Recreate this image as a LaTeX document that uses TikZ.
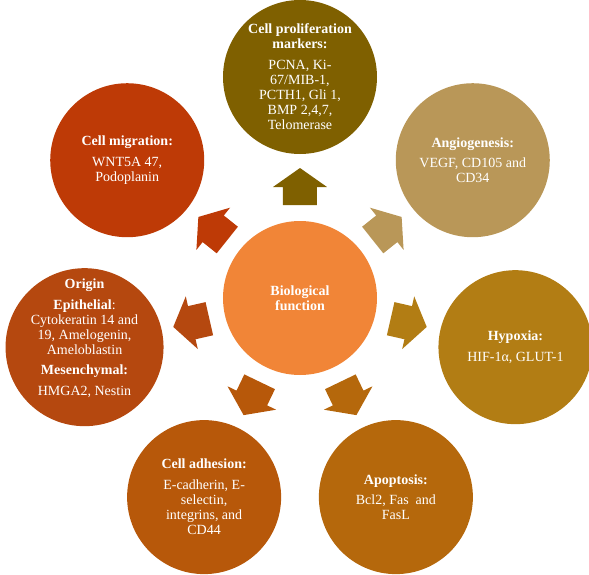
\documentclass[tikz,border=0pt]{standalone}
\usepackage{fontspec}
\setmainfont{Liberation Serif}
\definecolor{cCenter}{RGB}{241,133,55}
\definecolor{cTop}{RGB}{127,96,0}
\definecolor{cAngio}{RGB}{185,151,88}
\definecolor{cHypo}{RGB}{178,125,20}
\definecolor{cApop}{RGB}{181,104,12}
\definecolor{cAdh}{RGB}{183,88,10}
\definecolor{cOrig}{RGB}{181,72,15}
\definecolor{cMig}{RGB}{190,58,6}
\tikzset{
  bubble/.style={circle, fill=#1, minimum size=154pt, inner sep=0pt, text=white,
    align=center, font=\fontsize{14}{15.2}\selectfont},
  bubtext/.style={text=white, align=center, inner sep=0pt, font=\fontsize{14}{15.2}\selectfont},
  blockarrow/.style={fill=#1}
}
\begin{document}
\begin{tikzpicture}[x=1pt,y=1pt]
\useasboundingbox (-300,-276) rectangle (289,298);
% arrows
\foreach \ang/\col in {90/cTop, 38.571/cAngio, -12.857/cHypo, -64.286/cApop, -115.714/cAdh, -167.143/cOrig, 141.429/cMig}{
  \fill[blockarrow=\col, rotate=\ang] (93,-17) -- (111,-17) -- (111,-27) -- (130,0) -- (111,27) -- (111,17) -- (93,17) -- cycle;
}
\node[bubble=cCenter] (center) at (0,0) {\textbf{Biological}\\\textbf{function}};
\node[bubble=cTop] (prolif) at (90:221) {\textbf{Cell proliferation}\\\textbf{markers:}\\[5pt]PCNA, Ki-\\67/MIB-1,\\PCTH1, Gli 1,\\BMP 2,4,7,\\Telomerase};
\node[bubble=cAngio] (angio) at (38.571:221) {\textbf{Angiogenesis:}\\[5pt]VEGF, CD105 and\\CD34};
\node[bubble=cHypo] (hypo) at (-12.857:221) {\textbf{Hypoxia:}\\[5pt]HIF-1α, GLUT-1};
\node[bubble=cApop] (apop) at (-64.286:221) {\textbf{Apoptosis:}\\[5pt]Bcl2, Fas\ \ and\\FasL};
\node[bubble=cAdh] (adh) at (-115.714:221) {\textbf{Cell adhesion:}\\[5pt]E-cadherin, E-\\selectin,\\integrins, and\\CD44};
\node[bubble=cOrig, minimum size=158pt] (orig) at (-167.143:221) {};
\node[bubtext] (origtext) at ([yshift=9pt]orig.center) {\textbf{Origin}\\[5pt]\textbf{Epithelial}:\\Cytokeratin 14 and\\19, Amelogenin,\\Ameloblastin\\[5pt]\textbf{Mesenchymal:}\\[5pt]HMGA2, Nestin};
\node[bubble=cMig] (mig) at (141.429:221) {\textbf{Cell migration:}\\[5pt]WNT5A 47,\\Podoplanin};
\end{tikzpicture}
\end{document}
